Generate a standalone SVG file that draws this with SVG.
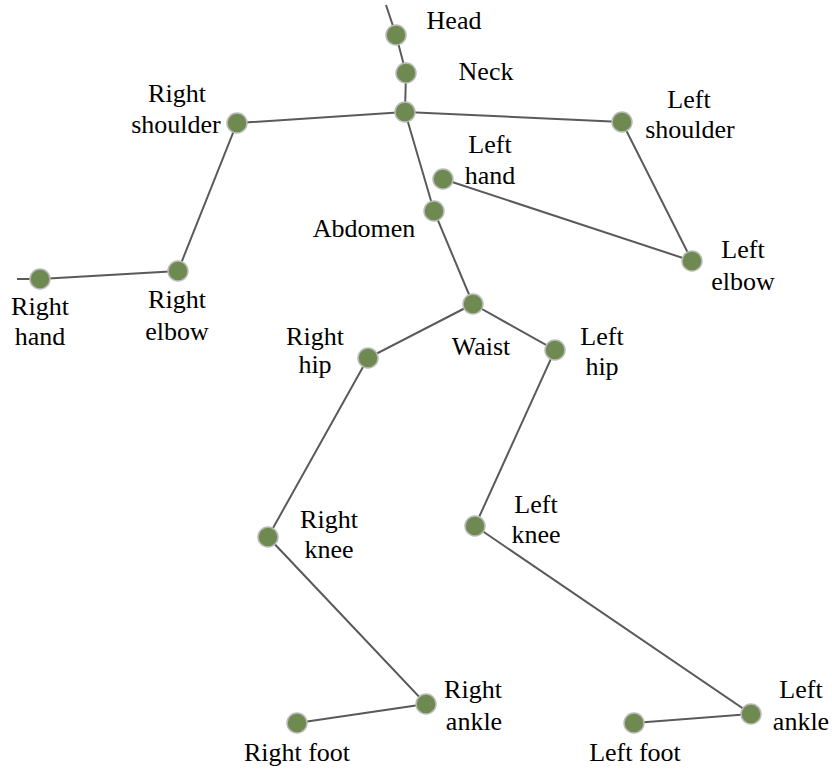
<svg xmlns="http://www.w3.org/2000/svg" width="832" height="772" viewBox="0 0 832 772">
<style>
.e{stroke:#5a5a5a;stroke-width:2;fill:none}
.n{fill:#6f8a50;stroke:#b9b9b9;stroke-width:1.5}
text{font-family:"Liberation Serif","Times New Roman",serif;font-size:26px;fill:#000;text-anchor:middle}
</style>
<rect width="832" height="772" fill="#fff"/>
<g id="connectors">
<path class="e" d="M386,5L396,35L406,73L405,112"/>
<path class="e" d="M405,112L237,123L178,271L40,279L17,279"/>
<path class="e" d="M405,112L622,122L692,261L443,179"/>
<path class="e" d="M405,112L434,211L473,304"/>
<path class="e" d="M473,304L368,358L268,537L426,704L297,723"/>
<path class="e" d="M473,304L555,350L475,526L751,714L634,723"/>
</g>
<g id="head"><circle class="n" cx="396" cy="35" r="10"/><text x="454" y="29">Head</text></g>
<g id="neck"><circle class="n" cx="406" cy="73" r="10"/><text x="486" y="80">Neck</text></g>
<g id="shoulder-center"><circle class="n" cx="405" cy="112" r="10"/></g>
<g id="right-shoulder"><circle class="n" cx="237" cy="123" r="10"/><text x="177" y="102">Right</text><text x="176" y="133">shoulder</text></g>
<g id="left-shoulder"><circle class="n" cx="622" cy="122" r="10"/><text x="689" y="108">Left</text><text x="690" y="138">shoulder</text></g>
<g id="left-hand"><circle class="n" cx="443" cy="179" r="10"/><text x="490" y="153">Left</text><text x="490" y="184">hand</text></g>
<g id="abdomen"><circle class="n" cx="434" cy="211" r="10"/><text x="364" y="237">Abdomen</text></g>
<g id="left-elbow"><circle class="n" cx="692" cy="261" r="10"/><text x="743" y="258">Left</text><text x="743" y="290">elbow</text></g>
<g id="right-elbow"><circle class="n" cx="178" cy="271" r="10"/><text x="177" y="308">Right</text><text x="177" y="340">elbow</text></g>
<g id="right-hand"><circle class="n" cx="40" cy="279" r="10"/><text x="40" y="315">Right</text><text x="40" y="345">hand</text></g>
<g id="waist"><circle class="n" cx="473" cy="304" r="10"/><text x="481" y="355">Waist</text></g>
<g id="right-hip"><circle class="n" cx="368" cy="358" r="10"/><text x="315" y="345">Right</text><text x="315" y="373">hip</text></g>
<g id="left-hip"><circle class="n" cx="555" cy="350" r="10"/><text x="602" y="345">Left</text><text x="602" y="375">hip</text></g>
<g id="right-knee"><circle class="n" cx="268" cy="537" r="10"/><text x="329" y="528">Right</text><text x="329" y="558">knee</text></g>
<g id="left-knee"><circle class="n" cx="475" cy="526" r="10"/><text x="536" y="513">Left</text><text x="536" y="543">knee</text></g>
<g id="right-ankle"><circle class="n" cx="426" cy="704" r="10"/><text x="473" y="698">Right</text><text x="474" y="730">ankle</text></g>
<g id="left-ankle"><circle class="n" cx="751" cy="714" r="10"/><text x="801" y="698">Left</text><text x="801" y="730">ankle</text></g>
<g id="right-foot"><circle class="n" cx="297" cy="723" r="10"/><text x="297" y="761">Right foot</text></g>
<g id="left-foot"><circle class="n" cx="634" cy="723" r="10"/><text x="635" y="761">Left foot</text></g>
</svg>
